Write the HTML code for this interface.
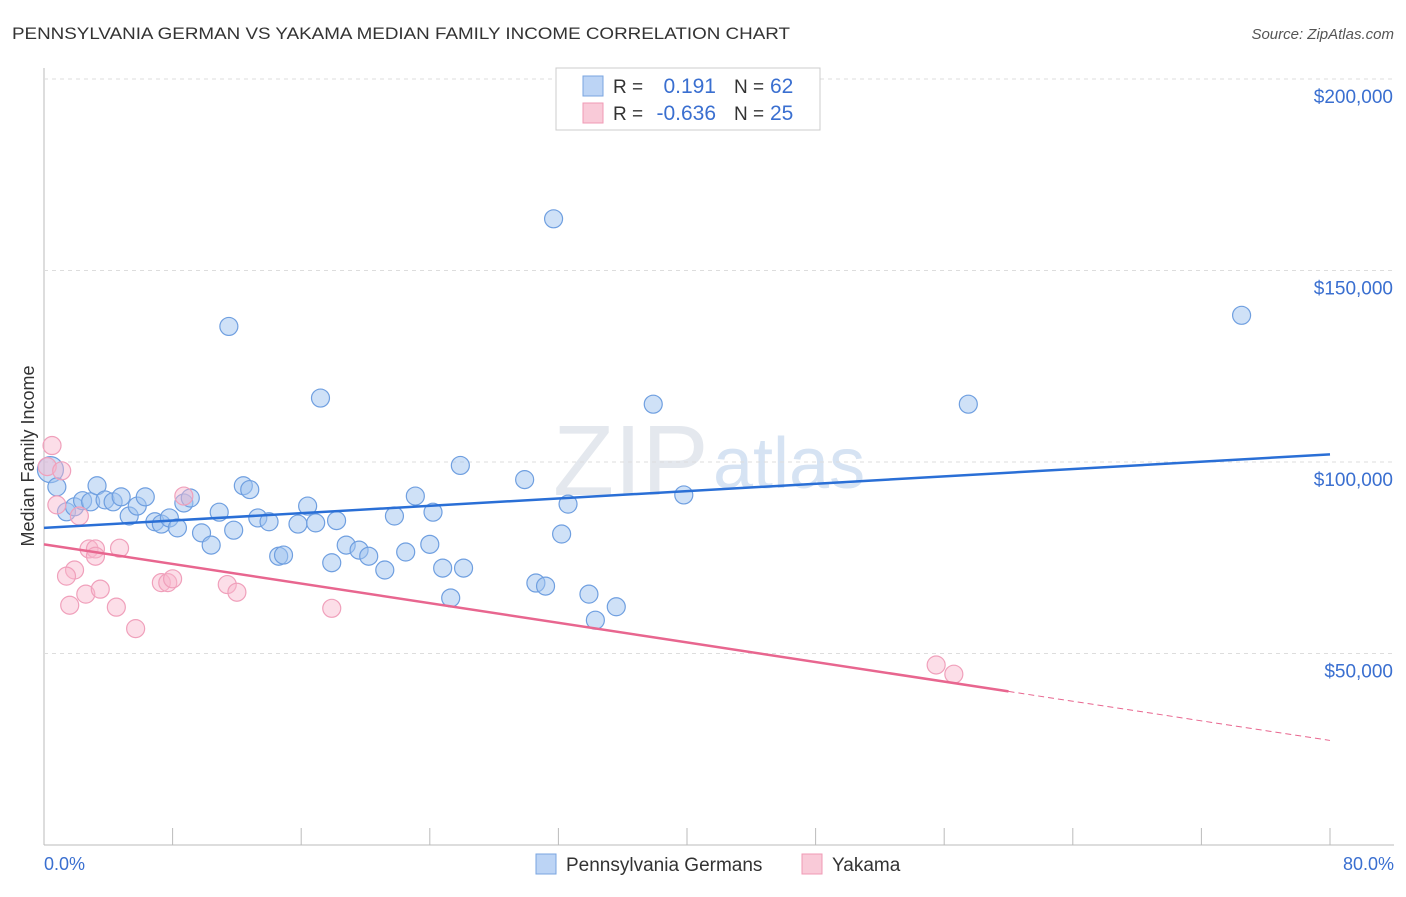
<!DOCTYPE html>
<html><head><meta charset="utf-8"><style>
body{margin:0;background:#fff;font-family:"Liberation Sans",sans-serif;}
svg text{font-family:"Liberation Sans",sans-serif;}
</style></head><body>
<svg id="c" width="1406" height="892">
<text x="12" y="39" font-size="17" fill="#333" textLength="778" lengthAdjust="spacingAndGlyphs">PENNSYLVANIA GERMAN VS YAKAMA MEDIAN FAMILY INCOME CORRELATION CHART</text>
<text x="1394" y="39" font-size="15" fill="#555" font-style="italic" text-anchor="end">Source: ZipAtlas.com</text>
<text x="553" y="495" font-size="100" fill="#e4e8ee" font-family="Liberation Serif">ZIP</text>
<text x="713" y="488" font-size="72" fill="#d6e3f3">atlas</text>
<g id="grid"></g><g id="pts"></g><g id="lines"></g>
<text transform="translate(34,456) rotate(-90)" font-size="18" fill="#333" text-anchor="middle">Median Family Income</text>
<text x="44" y="870" font-size="18" fill="#3a6fd0">0.0%</text>
<text x="1394" y="870" font-size="18" fill="#3a6fd0" text-anchor="end">80.0%</text>
<g>
<rect x="556" y="68" width="264" height="62" fill="#fff" stroke="#ccc"/>
<rect x="583" y="76" width="20" height="20" fill="#bcd4f5" stroke="#7aa5e0"/>
<text x="613" y="93" font-size="19" fill="#333">R =</text><text x="716" y="93" font-size="21" fill="#3a6fd0" text-anchor="end">0.191</text>
<text x="734" y="93" font-size="19" fill="#333">N =</text><text x="770" y="93" font-size="21" fill="#3a6fd0">62</text>
<rect x="583" y="103" width="20" height="20" fill="#f9cad8" stroke="#f09ab5"/>
<text x="613" y="120" font-size="19" fill="#333">R =</text><text x="716" y="120" font-size="21" fill="#3a6fd0" text-anchor="end">-0.636</text>
<text x="734" y="120" font-size="19" fill="#333">N =</text><text x="770" y="120" font-size="21" fill="#3a6fd0">25</text>
</g>
<g>
<rect x="536" y="854" width="20" height="20" fill="#bcd4f5" stroke="#7aa5e0"/>
<text x="566" y="871" font-size="19" fill="#333">Pennsylvania Germans</text>
<rect x="802" y="854" width="20" height="20" fill="#f9cad8" stroke="#f09ab5"/>
<text x="832" y="871" font-size="19" fill="#333">Yakama</text>
</g>
</svg>
<script>
const yTicks=[50000,100000,150000,200000];
const yTickLabels=["$50,000","$100,000","$150,000","$200,000"];
const xTicks=[8,16,24,32,40,48,56,64,72,80];
const blueX=[0.4,0.8,1.4,1.9,2.4,2.9,3.3,3.8,4.3,4.8,5.3,5.8,6.3,6.9,7.3,7.8,8.3,8.7,9.1,9.8,10.4,10.9,11.5,11.8,12.4,12.8,13.3,14.0,14.6,14.9,15.8,16.4,16.9,17.2,17.9,18.2,18.8,19.6,20.2,21.2,21.8,22.5,23.1,24.0,24.2,24.8,25.3,25.9,26.1,29.9,30.6,31.2,31.7,32.2,32.6,33.9,34.3,35.6,37.9,39.8,57.5,74.5];
const blueY=[98000,93500,87000,88300,89900,89600,93800,90100,89600,90900,85900,88500,90900,84400,83800,85400,82800,89300,90600,81500,78300,86900,135400,82200,93800,92800,85400,84400,75400,75700,83800,88500,84100,116700,73700,84700,78300,77000,75400,71800,85900,76500,91100,78500,86900,72300,64500,99100,72300,95400,68400,67600,163500,81200,89000,65500,58700,62200,115100,91400,115100,138300];
const pinkX=[0.5,0.2,1.1,0.8,2.2,2.8,3.2,3.2,4.7,1.9,1.4,1.6,2.6,3.5,4.5,5.7,7.3,7.7,8.0,8.7,11.4,12.0,17.9,55.5,56.6];
const pinkY=[104300,98800,97700,88800,85900,77300,77300,75400,77500,71800,70200,62600,65500,66800,62100,56500,68500,68500,69500,91100,68000,66000,61800,47000,44600];
const blueLine=[82800,102000];
const pinkLine=[78500,27300];
const X0=44,X1=1330,Y0=845,Y1=79;
const xs=v=>X0+(X1-X0)*v/80, ys=v=>Y0-(Y0-Y1)*v/200000;
const NS="http://www.w3.org/2000/svg";
function mk(t,a,p){const e=document.createElementNS(NS,t);for(const k in a)e.setAttribute(k,a[k]);p.appendChild(e);return e;}
const g=document.getElementById('grid');
const ax=mk('line',{x1:44,y1:68,x2:44,y2:845,stroke:'#bbb'},g);


const bx=mk('line',{x1:44,y1:845,x2:1394,y2:845,stroke:'#bbb'},g);


yTicks.forEach((v,i)=>{
 const l=mk('line',{x1:44,x2:1394,y1:ys(v),y2:ys(v),stroke:'#ddd','stroke-dasharray':'4,4'},g);
 
 
 const t=mk('text',{x:1393,y:ys(v)+24,'font-size':19,fill:'#3a6fd0','text-anchor':'end'},g);
 t.textContent=yTickLabels[i];
 
 
});
xTicks.forEach(v=>{
 const l=mk('line',{x1:xs(v),x2:xs(v),y1:828,y2:845,stroke:'#bbb'},g);
 
 
});
const p=document.getElementById('pts');
blueX.forEach((x,i)=>{
 const c=mk('circle',{cx:xs(x),cy:ys(blueY[i]),r:i==0?13:9,fill:'rgba(160,196,240,0.5)',stroke:'#6f9fe0','stroke-width':1.2},p);
 
 
});
pinkX.forEach((x,i)=>{
 const c=mk('circle',{cx:xs(x),cy:ys(pinkY[i]),r:9,fill:'rgba(248,182,204,0.45)',stroke:'#f0a0bb','stroke-width':1.2},p);
 
 
});
const L=document.getElementById('lines');
const bl=mk('line',{x1:xs(0),y1:ys(blueLine[0]),x2:xs(80),y2:ys(blueLine[1]),stroke:'#2a6fd6','stroke-width':2.5},L);


const pm=v=>pinkLine[0]+(pinkLine[1]-pinkLine[0])*v/80;
const pl=mk('line',{x1:xs(0),y1:ys(pm(0)),x2:xs(60),y2:ys(pm(60)),stroke:'#e8668f','stroke-width':2.5},L);


const pd=mk('line',{x1:xs(60),y1:ys(pm(60)),x2:xs(80),y2:ys(pm(80)),stroke:'#e8668f','stroke-width':1,'stroke-dasharray':'6,4'},L);


</script>
</body></html>
